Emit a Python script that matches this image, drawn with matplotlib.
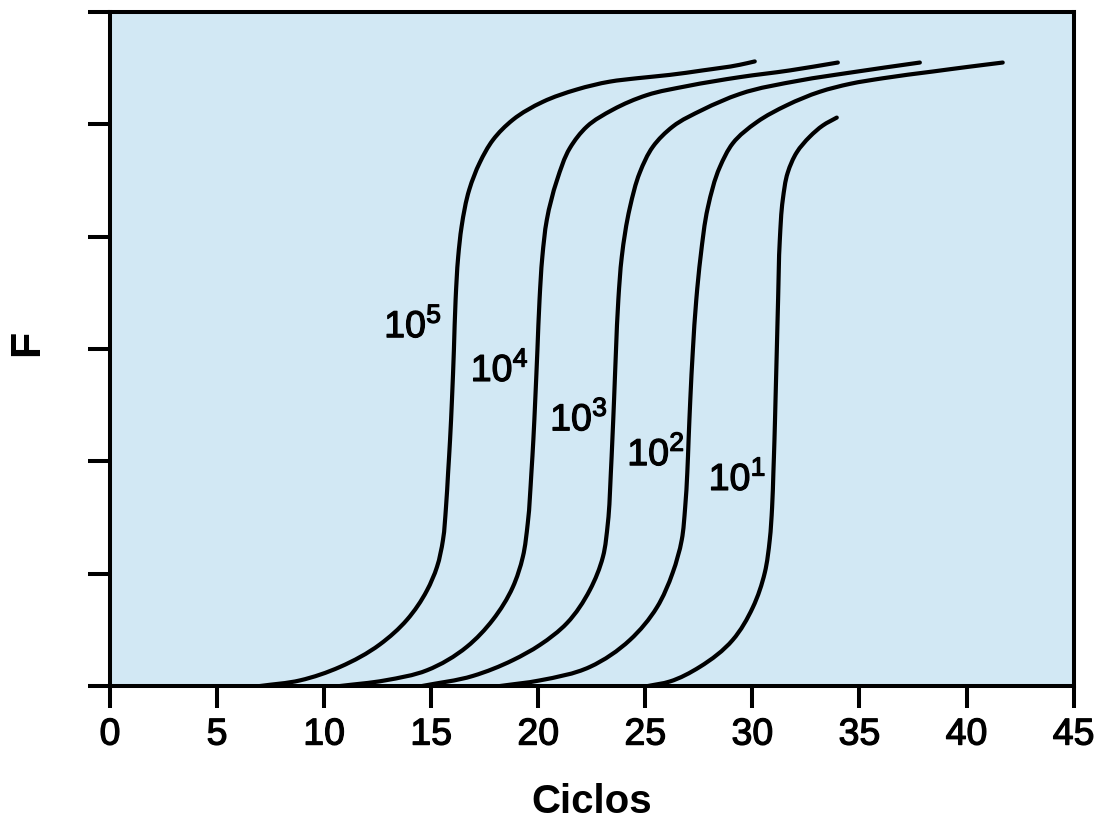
import matplotlib
matplotlib.use("Agg")
import numpy as np
import matplotlib.pyplot as plt
import matplotlib.patheffects as pe
from matplotlib.path import Path
from matplotlib.patches import PathPatch

plt.rcParams['font.family'] = ['Liberation Sans', 'DejaVu Sans']
plt.rcParams['mathtext.fontset'] = 'custom'
plt.rcParams['mathtext.rm'] = 'Liberation Sans'

# Amplification curves (cycle, fluorescence) for each starting copy number
x_1e5 = [7.00, 8.87, 10.74, 12.60, 13.87, 14.80, 15.27, 15.55, 15.69, 15.79,
         15.88, 15.97, 16.06, 16.14, 16.26, 16.42, 16.78, 17.27, 17.88, 18.81,
         20.21, 21.80, 23.34, 24.60, 26.14, 27.68, 29.41, 30.11]
y_1e5 = [0.00, 0.05, 0.17, 0.37, 0.59, 0.85, 1.06, 1.30, 1.59, 1.90,
         2.19, 2.55, 2.99, 3.44, 3.82, 4.09, 4.42, 4.66, 4.86, 5.04,
         5.20, 5.31, 5.38, 5.41, 5.44, 5.48, 5.53, 5.56]

x_1e4 = [10.74, 12.84, 14.80, 16.67, 17.88, 18.81, 19.28, 19.51, 19.68, 19.77,
         19.86, 19.96, 20.06, 20.19, 20.40, 20.87, 21.48, 22.27, 23.48, 25.07,
         26.94, 29.41, 31.75, 33.99]
y_1e4 = [0.00, 0.05, 0.14, 0.35, 0.59, 0.88, 1.15, 1.45, 1.90, 2.19,
         2.55, 2.99, 3.44, 3.82, 4.15, 4.50, 4.79, 4.98, 5.13, 5.26,
         5.34, 5.42, 5.48, 5.55]

x_1e3 = [14.57, 16.95, 18.81, 20.07, 21.34, 22.41, 23.02, 23.25, 23.39, 23.46,
         23.54, 23.63, 23.74, 23.90, 24.28, 24.74, 25.35, 26.28, 27.68, 29.41,
         32.21, 34.55, 37.82]
y_1e3 = [0.00, 0.09, 0.23, 0.365, 0.56, 0.855, 1.15, 1.45, 1.90, 2.19,
         2.55, 2.99, 3.44, 3.82, 4.26, 4.57, 4.80, 4.98, 5.13, 5.27,
         5.39, 5.46, 5.55]

x_1e2 = [18.21, 20.07, 22.41, 24.28, 25.54, 26.28, 26.70, 26.86, 26.96, 27.02,
         27.10, 27.22, 27.38, 27.58, 27.92, 28.48, 29.08, 30.21, 31.61, 33.15,
         34.55, 36.09, 38.42, 40.01, 41.69]
y_1e2 = [0.00, 0.05, 0.17, 0.41, 0.70, 1.01, 1.30, 1.59, 1.90, 2.19,
         2.55, 2.99, 3.44, 3.82, 4.26, 4.62, 4.83, 5.02, 5.17, 5.29,
         5.36, 5.41, 5.47, 5.51, 5.55]

x_1e1 = [25.12, 26.14, 27.54, 29.08, 30.02, 30.58, 30.81, 30.92, 30.98, 31.03,
         31.08, 31.14, 31.20, 31.28, 31.42, 31.65, 32.07, 32.68, 33.29, 33.94]
y_1e1 = [0.00, 0.04, 0.17, 0.41, 0.70, 1.01, 1.30, 1.59, 1.90, 2.19,
         2.55, 2.99, 3.44, 3.97, 4.33, 4.57, 4.75, 4.89, 4.99, 5.06]

exponents = ['5', '4', '3', '2', '1']
label_x = [14.15, 18.2, 21.9, 25.5, 29.3]
label_y = [3.20, 2.81, 2.37, 2.06, 1.84]

xticks = [0, 5, 10, 15, 20, 25, 30, 35, 40, 45]
yticks = [0, 1, 2, 3, 4, 5, 6]


def smooth_path(xs, ys, sx, sy):
    """Cubic Bezier path through every point (chord-length Bessel
    tangents, computed in screen-proportional units)."""
    p = np.column_stack([np.asarray(xs) * sx, np.asarray(ys) * sy])
    n = len(p)
    tang = np.zeros_like(p)
    for i in range(n):
        if i == 0:
            d = p[1] - p[0]
        elif i == n - 1:
            d = p[-1] - p[-2]
        else:
            d0 = p[i] - p[i - 1]
            d1 = p[i + 1] - p[i]
            h0 = np.hypot(*d0)
            h1 = np.hypot(*d1)
            d = (h1 / (h0 + h1)) * d0 / h0 + (h0 / (h0 + h1)) * d1 / h1
        tang[i] = d / np.hypot(*d)
    verts = [p[0]]
    codes = [Path.MOVETO]
    for i in range(n - 1):
        seg = np.hypot(*(p[i + 1] - p[i]))
        verts += [p[i] + tang[i] * seg / 3.0,
                  p[i + 1] - tang[i + 1] * seg / 3.0,
                  p[i + 1]]
        codes += [Path.CURVE4] * 3
    v = np.array(verts)
    v[:, 0] /= sx
    v[:, 1] /= sy
    return Path(v, codes)


fig = plt.figure(figsize=(11, 8.21), dpi=100)
ax = fig.add_axes([0.1, 0.1644, 0.876, 0.821])
ax.set_facecolor('#D2E8F4')
ax.set_xlim(0, 45)
ax.set_ylim(0, 6)

# pixels per data unit along each axis
sx = 0.876 * 1100 / 45.0
sy = 0.821 * 821 / 6.0

series = [(x_1e5, y_1e5), (x_1e4, y_1e4), (x_1e3, y_1e3),
          (x_1e2, y_1e2), (x_1e1, y_1e1)]
for xs, ys in series:
    patch = PathPatch(smooth_path(xs, ys, sx, sy), facecolor='none',
                      edgecolor='black', lw=3.0, capstyle='round',
                      joinstyle='round', zorder=3)
    ax.add_patch(patch)

medium = [pe.withStroke(linewidth=0.9, foreground='black')]
for e, lx, ly in zip(exponents, label_x, label_y):
    ax.text(lx, ly, '10$^{\\mathregular{%s}}$' % e, fontsize=27,
            ha='center', va='center', zorder=4, path_effects=medium)

ax.set_xticks(xticks)
ax.set_xticklabels([str(t) for t in xticks])
ax.set_yticks(yticks)
ax.set_yticklabels([])
ax.tick_params(axis='both', direction='out', length=16, width=2.9,
               color='black', labelsize=27, pad=6)
for lab in ax.get_xticklabels():
    lab.set_path_effects(medium)
for sp in ax.spines.values():
    sp.set_linewidth(2.9)
    sp.set_color('black')

ax.set_xlabel('Ciclos', fontsize=29, fontweight='bold', labelpad=22)
ax.text(-0.086, 0.509, 'F', transform=ax.transAxes, rotation=90,
        fontsize=31, fontweight='bold', ha='center', va='center')

fig.savefig('out.png', dpi=100)
